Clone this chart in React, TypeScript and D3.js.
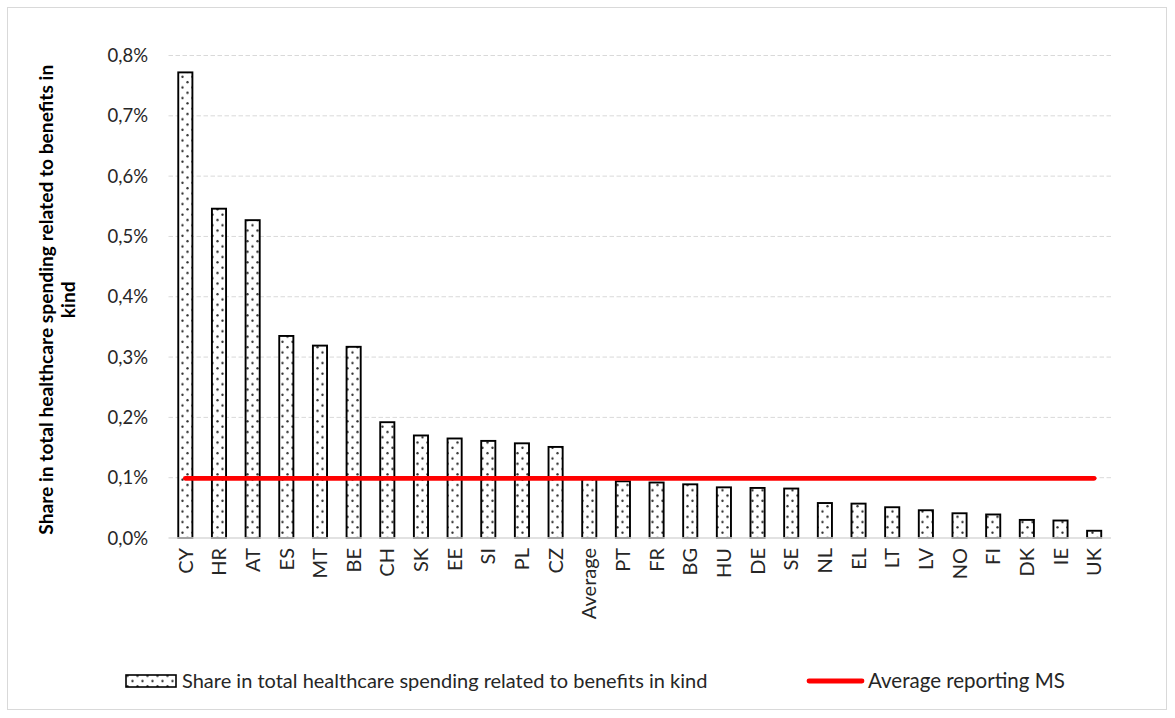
import React from "react";
import * as d3 from "d3";

// Countries, ordered by share (descending), with the EU average bar in between
const categories = [
  "CY", "HR", "AT", "ES", "MT", "BE", "CH", "SK", "EE", "SI", "PL", "CZ",
  "Average", "PT", "FR", "BG", "HU", "DE", "SE", "NL", "EL", "LT", "LV",
  "NO", "FI", "DK", "IE", "UK",
];

// Share in total healthcare spending related to benefits in kind (%)
const shares = [
  0.772, 0.546, 0.527, 0.335, 0.319, 0.317, 0.192, 0.170, 0.165, 0.161, 0.157, 0.151,
  0.099, 0.094, 0.092, 0.089, 0.084, 0.083, 0.082, 0.058, 0.057, 0.051, 0.046,
  0.041, 0.039, 0.030, 0.029, 0.012,
];

// Average across the reporting member states (%)
const averageReportingMS = 0.099;

const yTicks = [0, 0.1, 0.2, 0.3, 0.4, 0.5, 0.6, 0.7, 0.8];

const seriesLabel = "Share in total healthcare spending related to benefits in kind";
const averageLabel = "Average reporting MS";
const yTitleLines = ["Share in total healthcare spending related to benefits in", "kind"];

const W = 1175;
const H = 718;
const plot = { left: 168.5, right: 1111, top: 55.5, bottom: 538 };
const FONT = "Lato, 'Open Sans', sans-serif";
const TEXT = "#262626";

const fmt = (v: number) => v.toFixed(1).replace(".", ",") + "%";

export default function App() {
  const x = d3
    .scaleBand<string>()
    .domain(categories)
    .range([plot.left, plot.right])
    .paddingInner(0.58)
    .paddingOuter(0.29);
  const y = d3.scaleLinear().domain([0, 0.8]).range([plot.bottom, plot.top]);

  const lineGen = d3
    .line<string>()
    .x((c) => (x(c) as number) + x.bandwidth() / 2)
    .y(() => y(averageReportingMS));
  const lineEnds = [categories[0], categories[categories.length - 1]];

  return (
    <svg
      width={W}
      height={H}
      style={{ position: "absolute", left: 0, top: 0, background: "#fff" }}
      fontFamily={FONT}
    >
      <defs>
        <pattern id="dots" width={10} height={10.6} patternUnits="userSpaceOnUse">
          <rect width={10} height={10.6} fill="#fff" />
          <circle cx={2.5} cy={2.6} r={1.2} fill="#333" />
          <circle cx={7.5} cy={7.9} r={1.2} fill="#333" />
        </pattern>
      </defs>

      {/* chart frame */}
      <rect x={7.5} y={7.5} width={1159} height={702} fill="#fff" stroke="#d9d9d9" strokeWidth={1} />

      {/* horizontal gridlines */}
      {yTicks.filter((t) => t > 0).map((t) => (
        <line
          key={t}
          x1={plot.left}
          x2={plot.right}
          y1={y(t)}
          y2={y(t)}
          stroke="#d9d9d9"
          strokeWidth={1}
          strokeDasharray="4.5,2.5"
        />
      ))}

      {/* y tick labels */}
      {yTicks.map((t) => (
        <text
          key={t}
          x={148}
          y={y(t)}
          dy="0.36em"
          textAnchor="end"
          fontSize={18.5}
          fill={TEXT}
        >
          {fmt(t)}
        </text>
      ))}

      {/* y axis title */}
      <g transform={`translate(53,${(plot.top + plot.bottom) / 2 + 3}) rotate(-90)`}>
        {yTitleLines.map((l, i) => (
          <text
            key={i}
            x={0}
            y={i * 22}
            textAnchor="middle"
            fontSize={19.2}
            fontWeight="bold"
            fill="#000"
          >
            {l}
          </text>
        ))}
      </g>

      {/* bars */}
      {categories.map((c, i) => (
        <rect
          key={c}
          x={x(c)}
          y={y(shares[i])}
          width={x.bandwidth()}
          height={y(0) - y(shares[i])}
          fill="url(#dots)"
          stroke="#000"
          strokeWidth={1.9}
        />
      ))}

      {/* x axis */}
      <line x1={plot.left} x2={plot.right} y1={plot.bottom} y2={plot.bottom} stroke="#d9d9d9" strokeWidth={1.5} />

      {/* category labels */}
      {categories.map((c) => {
        const cx = (x(c) as number) + x.bandwidth() / 2;
        return (
          <text
            key={c}
            transform={`translate(${cx},${plot.bottom + 10}) rotate(-90)`}
            dy="0.36em"
            textAnchor="end"
            fontSize={20}
            fill={TEXT}
          >
            {c}
          </text>
        );
      })}

      {/* average line */}
      <path
        d={lineGen(lineEnds) || ""}
        fill="none"
        stroke="#ff0000"
        strokeWidth={4.8}
        strokeLinecap="round"
      />

      {/* legend */}
      <g>
        <rect x={126} y={675} width={50} height={12} fill="url(#dots)" stroke="#000" strokeWidth={1.6} />
        <text x={182} y={681} dy="0.36em" fontSize={20} fill={TEXT}>
          {seriesLabel}
        </text>
        <line x1={809} x2={862} y1={681} y2={681} stroke="#ff0000" strokeWidth={4.8} strokeLinecap="round" />
        <text x={868} y={681} dy="0.36em" fontSize={20.5} fill={TEXT}>
          {averageLabel}
        </text>
      </g>
    </svg>
  );
}
